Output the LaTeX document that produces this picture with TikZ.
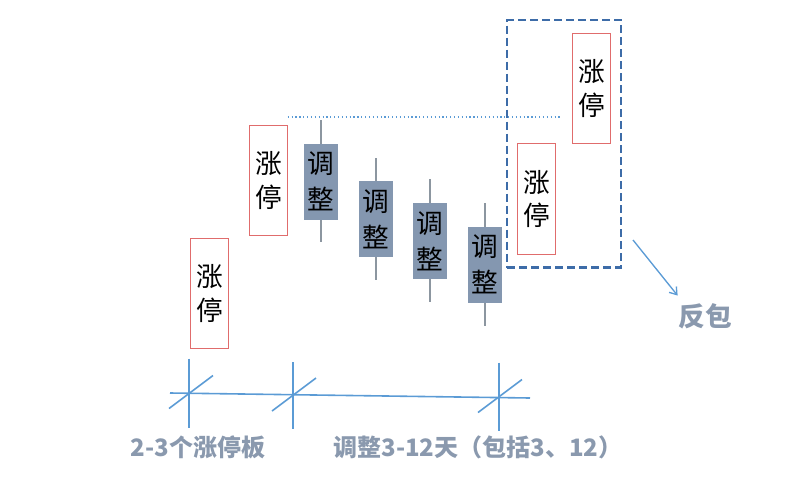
\documentclass[tikz,border=0pt]{standalone}
\usepackage{fontspec}
\newfontfamily\cjk{Noto Sans CJK SC}
\usetikzlibrary{arrows.meta, positioning, calc, fit, backgrounds}

\definecolor{limitred}{HTML}{E06C6C}
\definecolor{adjgray}{HTML}{8497B0}
\definecolor{wickgray}{HTML}{8C96A0}
\definecolor{framblue}{HTML}{3D6CA8}
\definecolor{axisblue}{HTML}{5B9BD5}
\definecolor{labgray}{HTML}{8A99AE}

\begin{document}
\begin{tikzpicture}[
  x=0.75pt, y=-0.75pt,
  limitup/.style = {
    draw=limitred,
    line width=0.8pt,
    fill=white,
    inner sep=0pt,
    minimum width=28pt,
    minimum height=83pt,
    align=center,
    font=\cjk\fontsize{20}{25}\selectfont
  },
  adjust/.style = {
    fill=adjgray,
    inner sep=0pt,
    minimum width=25.5pt,
    minimum height=57pt,
    align=center,
    font=\cjk\fontsize{20}{27}\selectfont
  },
  wick/.style = {draw=wickgray, line width=1pt},
  frame/.style = {
    draw=framblue,
    line width=1.6pt,
    dash pattern=on 6pt off 3pt,
    inner xsep=7.5pt,
    inner ysep=9.5pt
  },
  ruler/.style = {draw=axisblue, line width=1.2pt},
  note/.style = {
    text=labgray,
    font=\cjk\bfseries\fontsize{18}{22}\selectfont
  },
  arrow/.style = {draw=axisblue, line width=1pt, -{Straight Barb[length=5pt, width=7pt]}}
]

\useasboundingbox (0,0) rectangle (800,483);

% ======================================================
% CANDLES
% ======================================================

\node[limitup] (up1) at (209.5,293.5) {涨\\停};
\node[limitup] (up2) at (268.5,180.5) {涨\\停};

\draw[wick] (321,120) -- (321,242);
\node[adjust] (adj1) at (321,181.5) {调\\整};
\draw[wick] (376,158) -- (376,280);
\node[adjust] (adj2) at (376,219) {调\\整};
\draw[wick] (430,179) -- (430,302);
\node[adjust] (adj3) at (430,241) {调\\整};
\draw[wick] (485,203) -- (485,326);
\node[adjust] (adj4) at (485,264.5) {调\\整};

\node[limitup] (up3) at (536.5,199) {涨\\停};
\node[limitup] (up4) at (591.5,88.5) {涨\\停};

% dotted level of the first top
\draw[axisblue, line width=0.9pt, dotted] (up2.east |- 0,117) -- (562,117);

% the rebound frame
\begin{scope}[on background layer]
  \node[frame, fit=(up3)(up4)] (rebound) {};
\end{scope}

\node[note, font=\cjk\bfseries\fontsize{20}{24}\selectfont] (fanbao) at (705,316) {反包};
\coordinate (arrow_start) at (633,240);
\draw[arrow] (arrow_start) -- ($(fanbao.north west)+(4,-3)$);

% ======================================================
% TIME RULER
% ======================================================

\coordinate (ruler_left)  at (170,393);
\coordinate (ruler_right) at (530,398);
\coordinate (t1) at (189,393.5);
\coordinate (t2) at (293,395);
\coordinate (t3) at (499,396.5);

\draw[ruler] (ruler_left) -- (ruler_right);
\draw[ruler] (t1) ++(0,-35) -- ++(0,69);
\draw[ruler] (t2) ++(0,-33) -- ++(0,67);
\draw[ruler] (t3) ++(0,-34) -- ++(0,68);
\draw[ruler] (t1) ++(-20,15) -- ++(44,-33);
\draw[ruler] (t2) ++(-21,16) -- ++(44,-33);
\draw[ruler] (t3) ++(-21,16) -- ++(44,-33);

\node[note] (span_up)  at (198,447) {2-3个涨停板};
\node[note] (span_adj) at (478,447) {调整3-12天（包括3、12）};

\end{tikzpicture}
\end{document}
